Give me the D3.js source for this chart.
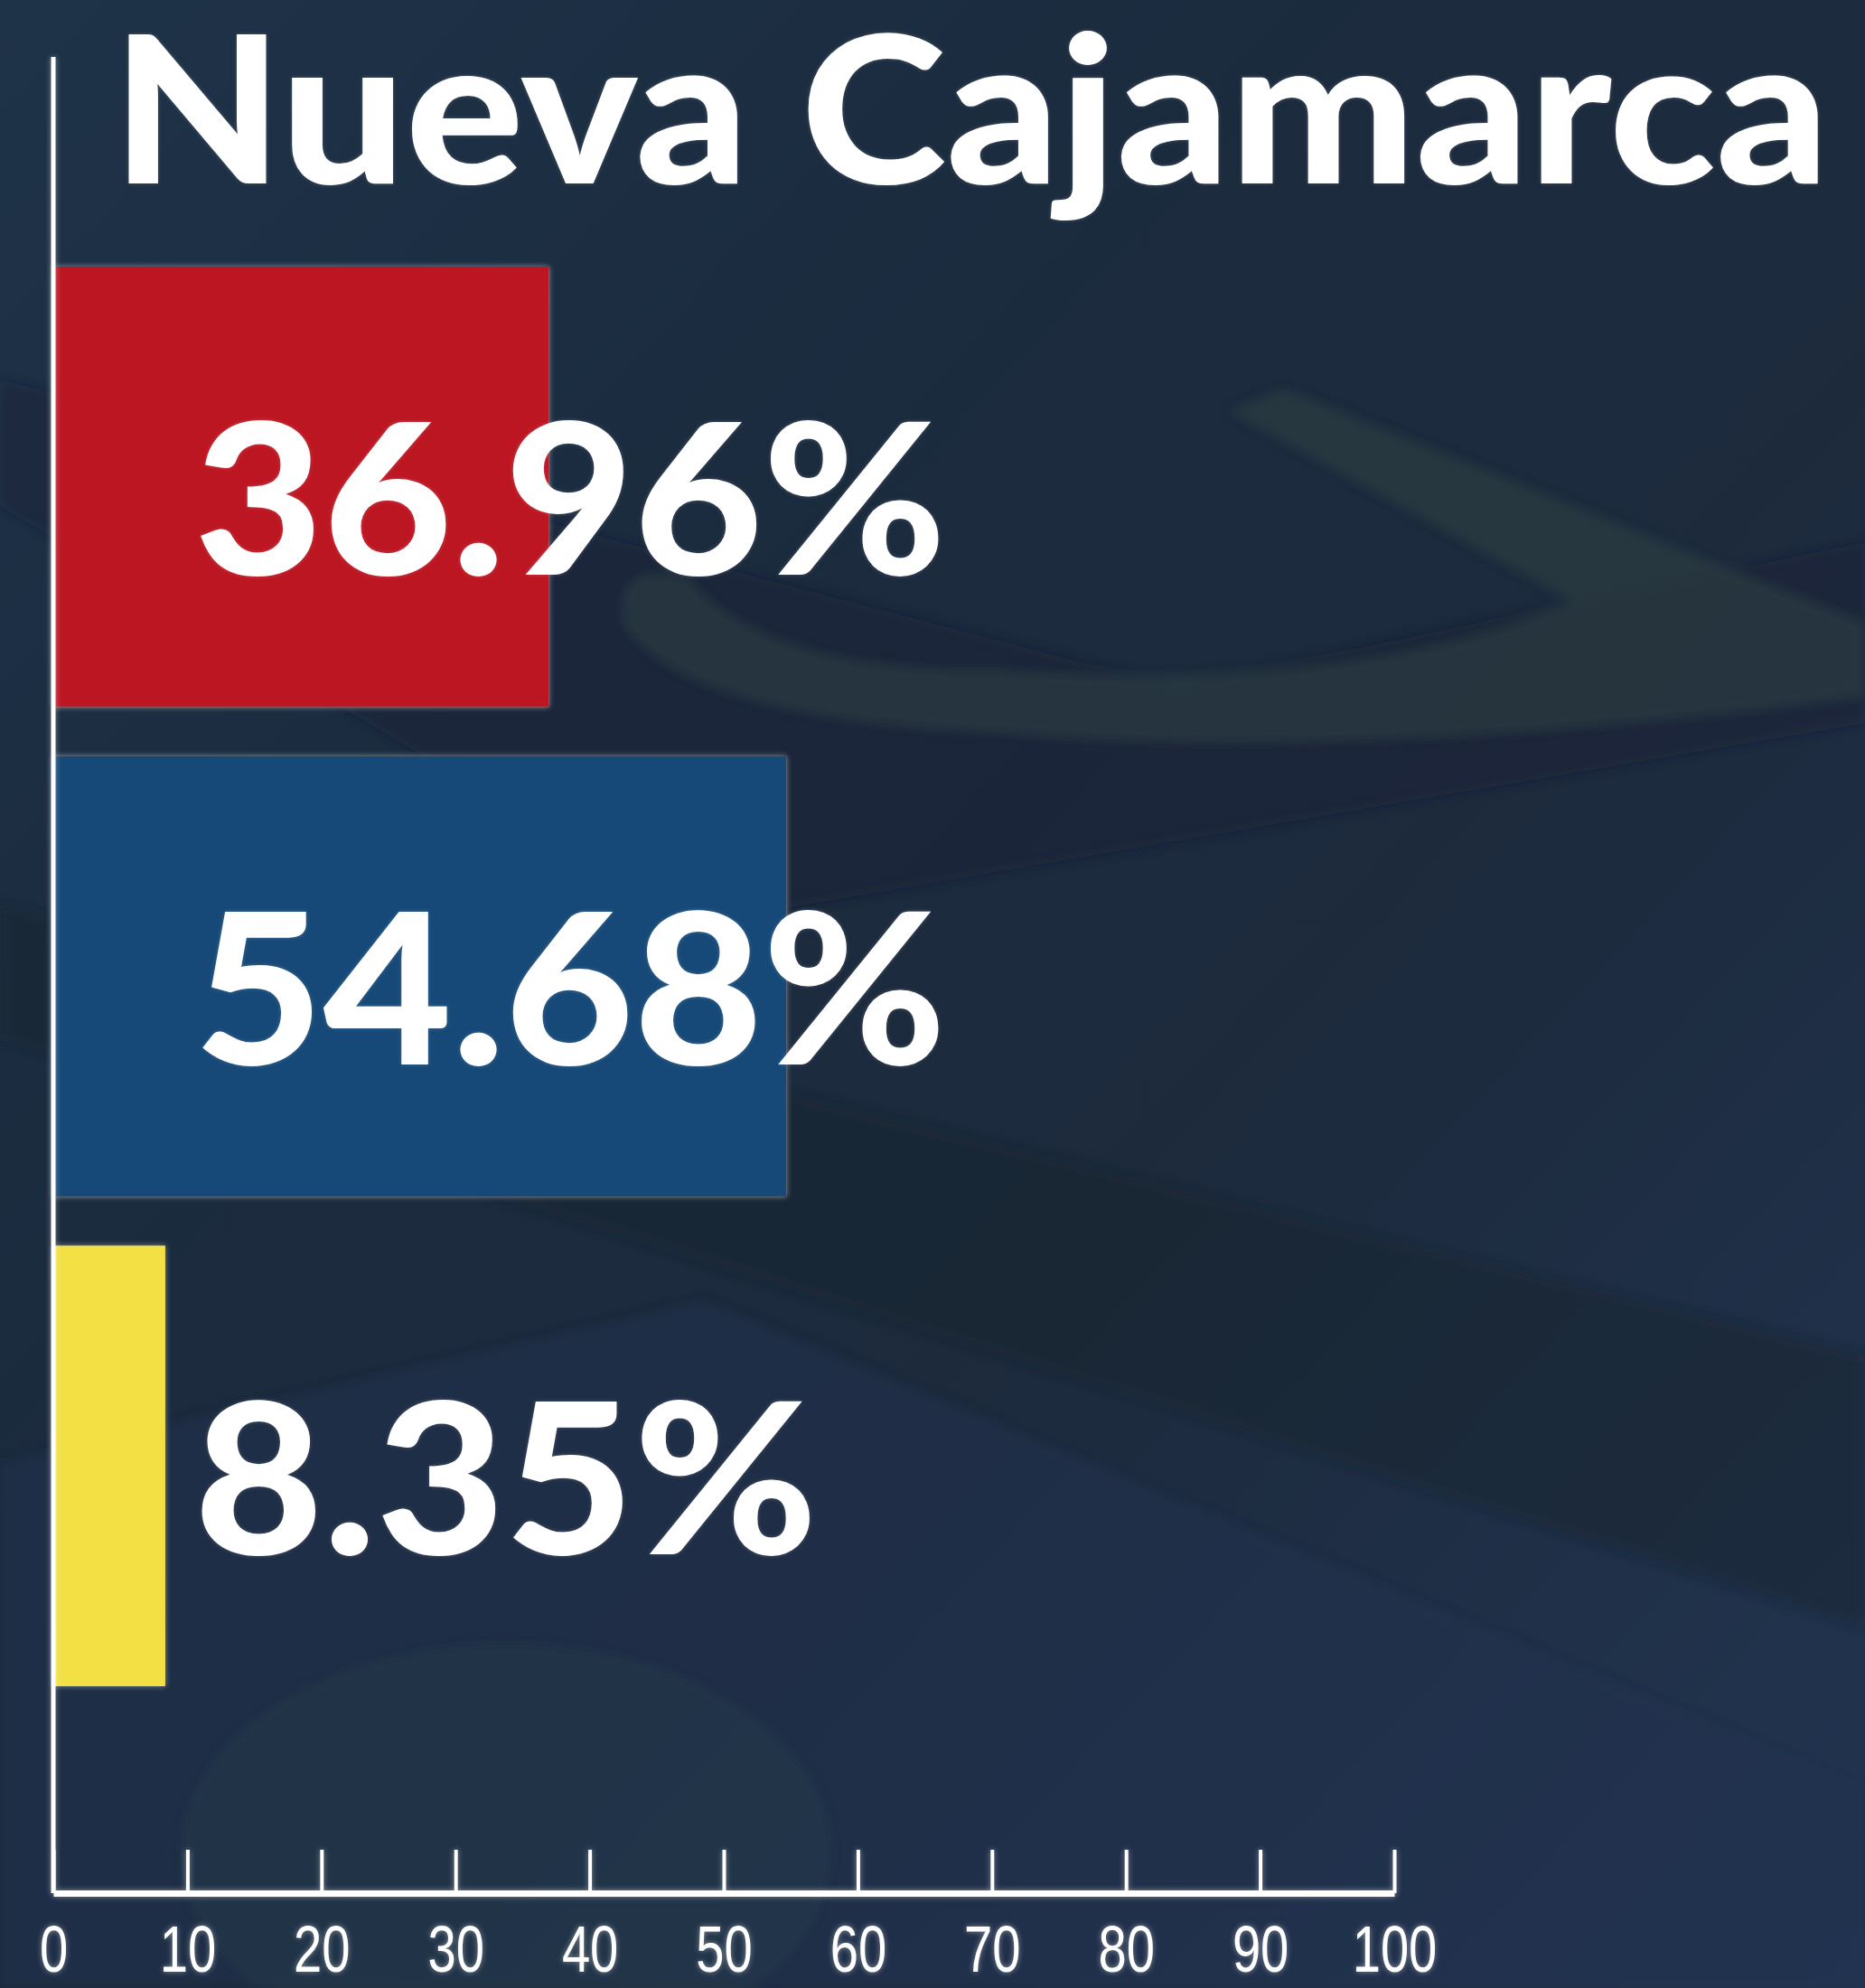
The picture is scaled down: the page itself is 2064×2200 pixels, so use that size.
<!DOCTYPE html>
<html>
<head>
<meta charset="utf-8">
<script src="https://cdn.jsdelivr.net/npm/d3@7/dist/d3.min.js"></script>
<style>
	html, body { margin: 0; padding: 0; background: #1c2b3d; }
	svg { display: block; }
</style>
</head>
<body>
<svg id="chart"></svg>
<script>
// ---- data ----
var titleText = "Nueva Cajamarca";
var categories = ["rojo", "azul", "amarillo"];
var values = [36.96, 54.68, 8.35];
var barColours = ["#bc1521", "#164a78", "#f2e045"];
var tickValues = [0, 10, 20, 30, 40, 50, 60, 70, 80, 90, 100];

// ---- layout ----
var svgWidth = 2064, svgHeight = 2200;
var x0 = 59, x1 = 1543;          // axis span
var barTop = 295, barBottom = 1866;
var axisY = 2095, axisTop = 63;

var svg = d3.select("#chart")
	.attr("width", svgWidth)
	.attr("height", svgHeight);

var defs = svg.append("defs");

// background gradient
var bg = defs.append("linearGradient").attr("id", "bg")
	.attr("x1", 0).attr("y1", 0).attr("x2", 1).attr("y2", 1);
bg.append("stop").attr("offset", "0%").attr("stop-color", "#1e3248");
bg.append("stop").attr("offset", "35%").attr("stop-color", "#1b2b3e");
bg.append("stop").attr("offset", "60%").attr("stop-color", "#1c2a3c");
bg.append("stop").attr("offset", "100%").attr("stop-color", "#223451");

// soft white glow (user space so it also works on zero-width lines);
// only ever applied to untransformed groups
function makeGlow(id, dev, op){
	var f = defs.append("filter").attr("id", id)
		.attr("filterUnits", "userSpaceOnUse")
		.attr("x", 0).attr("y", 0).attr("width", svgWidth).attr("height", svgHeight);
	f.append("feGaussianBlur").attr("in", "SourceAlpha").attr("stdDeviation", dev).attr("result", "blur");
	f.append("feFlood").attr("flood-color", "#ffffff").attr("flood-opacity", op);
	f.append("feComposite").attr("in2", "blur").attr("operator", "in").attr("result", "halo");
	var m = f.append("feMerge");
	m.append("feMergeNode").attr("in", "halo");
	m.append("feMergeNode").attr("in", "SourceGraphic");
}
makeGlow("glow", 3, 0.45);
makeGlow("glowText", 2, 0.2);

var soft = defs.append("filter").attr("id", "soft")
	.attr("filterUnits", "userSpaceOnUse")
	.attr("x", 0).attr("y", 0).attr("width", svgWidth).attr("height", svgHeight);
soft.append("feGaussianBlur").attr("stdDeviation", 6);

svg.append("rect")
	.attr("width", svgWidth).attr("height", svgHeight)
	.attr("fill", "url(#bg)");

// faint background decoration (blurred dashboard photo)
var deco = svg.append("g").attr("filter", "url(#soft)");
deco.append("path")
	.attr("d", "M0,1000 L2064,1500 L2064,1800 L0,1150 Z")
	.attr("fill", "#17222f").attr("opacity", 0.45);
deco.append("path")
	.attr("d", "M0,560 L780,1020 L2064,800 L2064,600 L1300,760 L0,420 Z")
	.attr("fill", "#162230").attr("opacity", 0.35);
deco.append("path")
	.attr("d", "M1360,455 L1420,430 L2064,690 L2064,770 Q1500,845 1100,810 Q760,795 690,690 Q680,620 760,640 Q850,745 1100,742 Q1500,770 1740,665 Z")
	.attr("fill", "#3a4a45").attr("opacity", 0.4);
deco.append("ellipse")
	.attr("cx", 560).attr("cy", 2050).attr("rx", 360).attr("ry", 230)
	.attr("fill", "#2e4550").attr("opacity", 0.35);
deco.append("path")
	.attr("d", "M0,1620 L780,1440 L2064,1980 L2064,2200 L0,2200 Z")
	.attr("fill", "#24344d").attr("opacity", 0.5);

// ---- scales ----
var x = d3.scaleLinear().domain([0, 100]).range([x0, x1]);
var y = d3.scaleBand().domain(categories).range([barTop, barBottom])
	.paddingInner(0.1).paddingOuter(0);

// ---- bars ----
var data = categories.map(function(c, i){ return {key: c, value: values[i], colour: barColours[i]}; });

svg.append("g")
	.attr("filter", "url(#glow)")
	.selectAll("rect")
	.data(data)
	.enter().append("rect")
	.attr("x", x(0))
	.attr("y", function(d){ return y(d.key); })
	.attr("width", function(d){ return x(d.value) - x(0); })
	.attr("height", y.bandwidth())
	.attr("fill", function(d){ return d.colour; });

// ---- axes ----
var axesGrp = svg.append("g").attr("filter", "url(#glow)");

var xAxis = d3.axisBottom(x)
	.tickValues(tickValues)
	.tickSize(-48)
	.tickSizeOuter(0)
	.tickPadding(36)
	.tickFormat(d3.format("d"));

var gx = axesGrp.append("g")
	.attr("transform", "translate(0," + axisY + ")")
	.call(xAxis);

gx.select(".domain").attr("stroke", "#ffffff").attr("stroke-width", 7);
gx.selectAll(".tick line").attr("stroke", "#ffffff").attr("stroke-width", 4);
gx.selectAll(".tick text")
	.attr("fill", "#ffffff")
	.attr("transform", "scale(0.78,1)")
	.style("font-family", "'Liberation Sans Narrow', 'Liberation Sans', sans-serif")
	.style("font-size", "72px")
	.style("font-weight", 400);

// vertical axis line
axesGrp.append("line")
	.attr("x1", x(0)).attr("x2", x(0))
	.attr("y1", axisTop).attr("y2", axisY)
	.attr("stroke", "#ffffff").attr("stroke-width", 5);

// ---- value labels ----
var labelSize = 232;
svg.append("g")
	.attr("filter", "url(#glowText)")
	.selectAll("text")
	.data(data)
	.enter().append("text")
	.attr("transform", function(d){
		var ty = y(d.key) + y.bandwidth()/2 + labelSize*0.36 + 14;
		return "translate(" + (x(0) + 156) + "," + ty + ") scale(1.06,1)";
	})
	.attr("fill", "#ffffff")
	.style("font-family", "Lato, 'Open Sans', sans-serif")
	.style("font-weight", 900)
	.style("font-size", labelSize + "px")
	.text(function(d){ return d3.format(".2f")(d.value) + "%"; });

// ---- title ----
svg.append("text")
	.attr("x", 124)
	.attr("y", 203)
	.attr("fill", "#ffffff")
	.attr("filter", "url(#glowText)")
	.attr("textLength", 1900)
	.attr("lengthAdjust", "spacingAndGlyphs")
	.style("font-family", "Lato, 'Open Sans', sans-serif")
	.style("font-weight", 900)
	.style("font-size", "228px")
	.text(titleText);
</script>
</body>
</html>
